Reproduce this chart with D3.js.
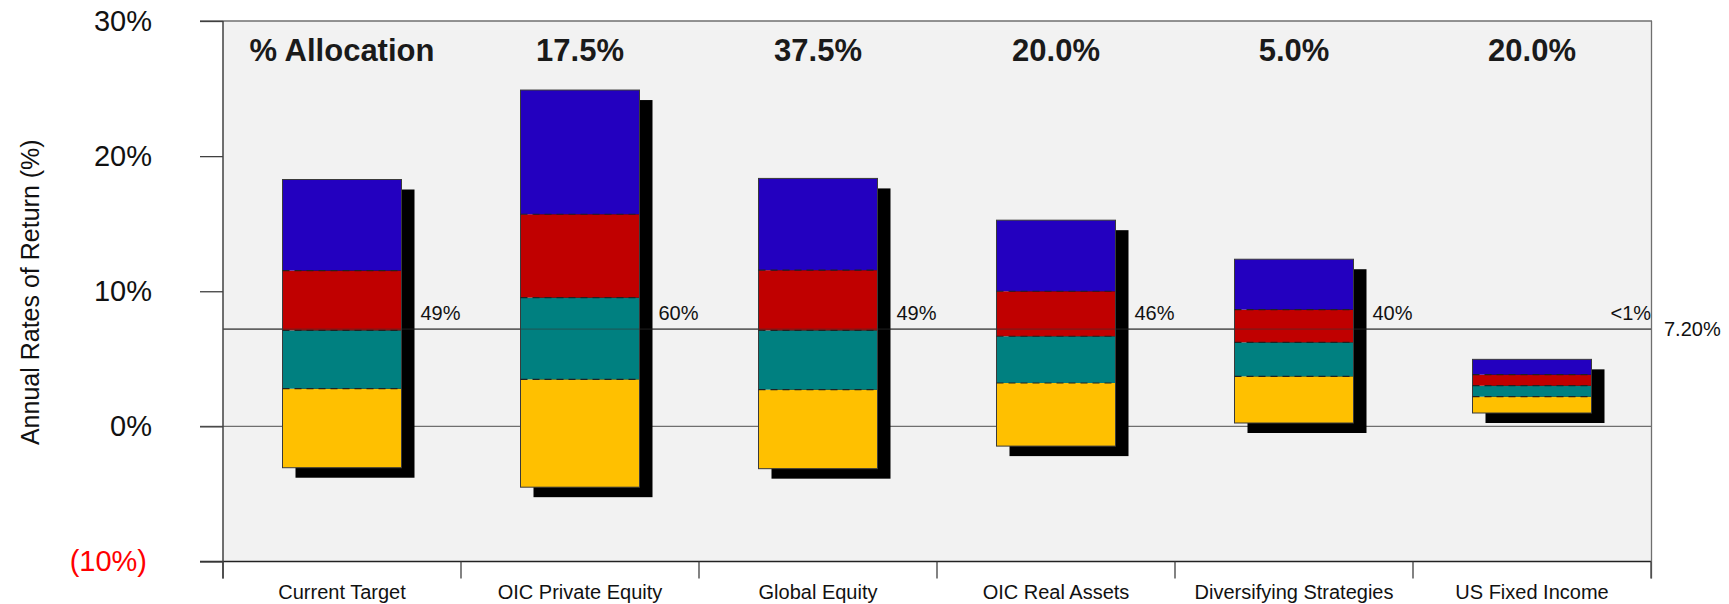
<!DOCTYPE html>
<html>
<head>
<meta charset="utf-8">
<script src="https://cdn.jsdelivr.net/npm/d3@7"></script>
<style>
  body { margin: 0; background: #fff; }
  svg { display: block; font-family: "Liberation Sans", Arial, sans-serif; }
</style>
</head>
<body>
<svg id="chart"></svg>
<script>
// categories and header allocations
const categories = ["Current Target", "OIC Private Equity", "Global Equity", "OIC Real Assets", "Diversifying Strategies", "US Fixed Income"];
const allocations = ["% Allocation", "17.5%", "37.5%", "20.0%", "5.0%", "20.0%"];

// percentile returns (%)
const p5  = [-3.06, -4.50, -3.13, -1.46, 0.25, 0.99];
const p25 = [2.79, 3.48, 2.72, 3.21, 3.70, 2.20];
const p50 = [7.11, 9.53, 7.11, 6.67, 6.22, 3.01];
const p75 = [11.53, 15.70, 11.56, 10.00, 8.64, 3.83];
const p95 = [18.27, 24.89, 18.35, 15.26, 12.37, 4.96];

// probability of reaching the target
const probLabels = ["49%", "60%", "49%", "46%", "40%", "<1%"];
const targetReturn = 7.2;
const yTicks = [-10, 0, 10, 20, 30];

const segColors = ["#FFC000", "#008080", "#C00000", "#2300BF"];

const W = 1729, H = 604;
const margin = {top: 21, right: 78, bottom: 42.5, left: 223};

const svg = d3.select("#chart").attr("width", W).attr("height", H);

const x = d3.scaleBand().domain(categories).range([margin.left, W - margin.right]);
const xBar = d3.scaleBand().domain(categories).range([margin.left, W - margin.right])
  .paddingInner(0.5).paddingOuter(0.25);
const y = d3.scaleLinear().domain([-10, 30]).range([H - margin.bottom, margin.top]);

const x0 = margin.left, x1 = W - margin.right;

// plot background
svg.append("rect")
  .attr("x", x0).attr("y", y(30))
  .attr("width", x1 - x0).attr("height", y(-10) - y(30))
  .attr("fill", "#F2F2F2");

// horizontal lines (top border, zero, bottom)
[30, 0].forEach(v => {
  svg.append("line")
    .attr("x1", 200).attr("x2", x1 + 1)
    .attr("y1", y(v)).attr("y2", y(v))
    .attr("stroke", "#6f6f6f").attr("stroke-width", 1.3);
});
svg.append("line")
  .attr("x1", 200).attr("x2", x1)
  .attr("y1", y(-10)).attr("y2", y(-10))
  .attr("stroke", "#222").attr("stroke-width", 1.5);

// right border
svg.append("line")
  .attr("x1", x1 + 0.5).attr("x2", x1 + 0.5)
  .attr("y1", y(30)).attr("y2", y(-10) + 17)
  .attr("stroke", "#6f6f6f").attr("stroke-width", 1.3);

// y axis
const yAxis = svg.append("g")
  .attr("transform", `translate(${x0},0)`)
  .call(d3.axisLeft(y).tickValues(yTicks).tickSize(23).tickPadding(48)
    .tickFormat(d => d < 0 ? `(${Math.abs(d)}%)` : d + "%"));
yAxis.select(".domain").remove();
yAxis.selectAll(".tick line").attr("stroke", "#404040").attr("stroke-width", 1.3);
yAxis.selectAll(".tick text")
  .attr("font-size", 29).attr("font-family", "Liberation Sans, Arial, sans-serif")
  .attr("fill", d => d < 0 ? "#FF0000" : "#111")
  .attr("dx", d => d < 0 ? -5 : 0);

// left axis line
svg.append("line")
  .attr("x1", x0).attr("x2", x0)
  .attr("y1", y(30)).attr("y2", y(-10) + 17)
  .attr("stroke", "#404040").attr("stroke-width", 1.5);

// category boundary ticks
const bounds = categories.map(c => x(c)).concat([x1]);
svg.selectAll(".xtick").data(bounds).join("line")
  .attr("class", "xtick")
  .attr("x1", d => d).attr("x2", d => d)
  .attr("y1", y(-10)).attr("y2", y(-10) + 17)
  .attr("stroke", "#404040").attr("stroke-width", 1.3);

// x labels
const xAxis = svg.append("g")
  .attr("transform", `translate(0,${y(-10)})`)
  .call(d3.axisBottom(x).tickSize(0).tickPadding(23));
xAxis.select(".domain").remove();
xAxis.selectAll(".tick text")
  .attr("font-size", 20).attr("font-family", "Liberation Sans, Arial, sans-serif")
  .attr("fill", "#111");

// y axis title
svg.append("text")
  .attr("transform", `translate(30,${y(10) + 1}) rotate(-90)`)
  .attr("text-anchor", "middle")
  .attr("dy", "0.35em")
  .attr("font-size", 25)
  .attr("fill", "#111")
  .text("Annual Rates of Return (%)");

// target line
svg.append("line")
  .attr("x1", x0).attr("x2", x1)
  .attr("y1", y(targetReturn)).attr("y2", y(targetReturn))
  .attr("stroke", "#555").attr("stroke-width", 1.3);
svg.append("text")
  .attr("x", x1 + 13).attr("y", y(targetReturn))
  .attr("dy", "0.35em")
  .attr("font-size", 20).attr("fill", "#111")
  .text(targetReturn.toFixed(2) + "%");

// bars
const rows = categories.map((c, i) => ({
  cat: c, vals: [p5[i], p25[i], p50[i], p75[i], p95[i]]
}));

const bar = svg.selectAll(".bar").data(rows).join("g").attr("class", "bar");

// drop shadow
bar.append("rect")
  .attr("x", d => xBar(d.cat) + 13)
  .attr("y", d => y(d.vals[4]) + 10)
  .attr("width", xBar.bandwidth())
  .attr("height", d => y(d.vals[0]) - y(d.vals[4]))
  .attr("fill", "#000");

// stacked percentile segments
bar.selectAll(".seg").data(d => d3.range(4).map(k => ({cat: d.cat, lo: d.vals[k], hi: d.vals[k + 1], k})))
  .join("rect")
  .attr("class", "seg")
  .attr("x", d => xBar(d.cat))
  .attr("y", d => y(d.hi))
  .attr("width", xBar.bandwidth())
  .attr("height", d => y(d.lo) - y(d.hi))
  .attr("fill", d => segColors[d.k]);

// outline
bar.append("rect")
  .attr("x", d => xBar(d.cat))
  .attr("y", d => y(d.vals[4]))
  .attr("width", xBar.bandwidth())
  .attr("height", d => y(d.vals[0]) - y(d.vals[4]))
  .attr("fill", "none")
  .attr("stroke", "#3a3a3a").attr("stroke-width", 1);

// dashed inner boundaries
bar.selectAll(".dash").data(d => [1, 2, 3].map(k => ({cat: d.cat, v: d.vals[k]})))
  .join("line")
  .attr("class", "dash")
  .attr("x1", d => xBar(d.cat)).attr("x2", d => xBar(d.cat) + xBar.bandwidth())
  .attr("y1", d => y(d.v)).attr("y2", d => y(d.v))
  .attr("stroke", "#222").attr("stroke-width", 1.2)
  .attr("stroke-dasharray", "7,5");

// target line over the bars
svg.append("line")
  .attr("x1", x0).attr("x2", x1)
  .attr("y1", y(targetReturn)).attr("y2", y(targetReturn))
  .attr("stroke", "#333").attr("stroke-width", 1).attr("stroke-opacity", 0.6);

// probability labels
svg.selectAll(".prob").data(categories).join("text")
  .attr("class", "prob")
  .attr("x", c => xBar(c) + xBar.bandwidth() + 19)
  .attr("y", y(targetReturn) - 9)
  .attr("font-size", 20).attr("fill", "#111")
  .text((c, i) => probLabels[i]);

// allocation headers
svg.selectAll(".alloc").data(categories).join("text")
  .attr("class", "alloc")
  .attr("x", c => x(c) + x.bandwidth() / 2)
  .attr("y", 61)
  .attr("text-anchor", "middle")
  .attr("font-size", 31).attr("font-weight", "bold").attr("fill", "#1a1a1a")
  .text((c, i) => allocations[i]);
</script>
</body>
</html>
